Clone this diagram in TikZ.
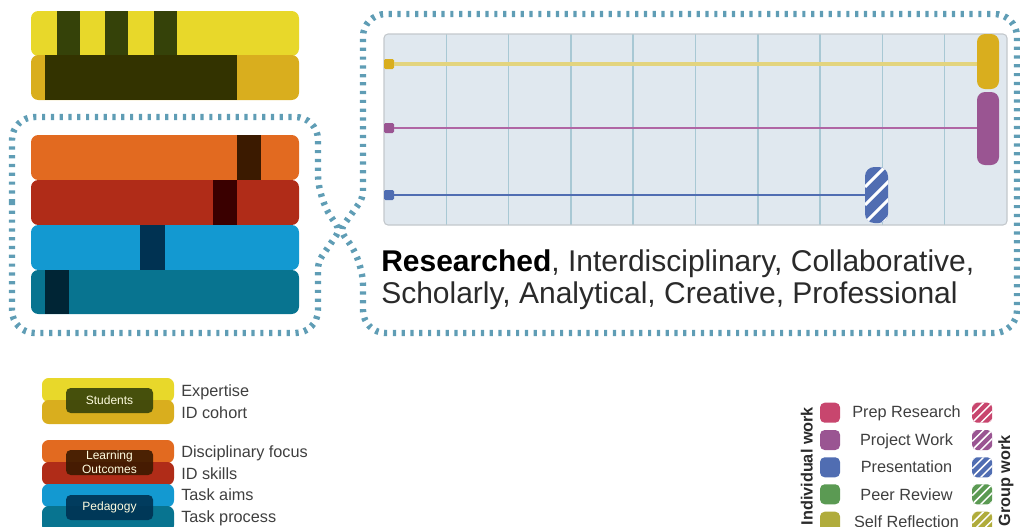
\documentclass[tikz,border=0pt]{standalone}
\usepackage{fontspec}
\setmainfont{Liberation Sans}
\setsansfont{Liberation Sans}
\definecolor{ylw}{HTML}{E8D82A}
\definecolor{gold}{HTML}{D9AE1E}
\definecolor{stripeY}{HTML}{354209}
\definecolor{darkY}{HTML}{333300}
\definecolor{orng}{HTML}{E26A20}
\definecolor{darkO}{HTML}{3B1A00}
\definecolor{redc}{HTML}{B02C18}
\definecolor{darkR}{HTML}{3A0000}
\definecolor{bluec}{HTML}{1399D1}
\definecolor{darkB}{HTML}{003252}
\definecolor{tealc}{HTML}{087490}
\definecolor{darkT}{HTML}{002535}
\definecolor{dotc}{HTML}{5F9DB5}
\definecolor{panelbg}{HTML}{E0E8EF}
\definecolor{panelbd}{HTML}{C3C8CC}
\definecolor{gridc}{HTML}{A8C8D4}
\definecolor{pinkc}{HTML}{C8466E}
\definecolor{purp}{HTML}{9A5592}
\definecolor{blu2}{HTML}{506DB2}
\definecolor{grn}{HTML}{5B9A53}
\definecolor{olv}{HTML}{B0AC3C}
\definecolor{yline}{HTML}{E3D47E}
\definecolor{pline}{HTML}{B066A4}
\definecolor{txt}{HTML}{2A2A2A}
\begin{document}
\begin{tikzpicture}[x=0.75pt,y=-0.75pt,
  dotbox/.style={draw=dotc, line width=4.8pt, dash pattern=on 2.4pt off 4.2pt},
  bar/.style={rounded corners=5.5pt},
  lbar/.style={rounded corners=5pt},
  vbar/.style={rounded corners=6pt, inner sep=0pt, minimum width=16.5pt},
  mk/.style={inner sep=0pt, minimum size=7.5pt, rounded corners=1pt},
  lsq/.style={inner sep=0pt, minimum size=15pt, rounded corners=3.5pt},
  hatch/.style={path picture={\foreach \k in {-3,...,3}
      \draw[white, line width=1.1pt] ([yshift=\k*6.5pt]path picture bounding box.south west) -- ++(20pt,20pt);}},
  bighatch/.style={path picture={\foreach \k in {-2,...,3}
      \draw[white, line width=2.2pt] ([yshift=\k*13.5pt]path picture bounding box.south west) -- ++(30pt,30pt);}},
  lbox/.style={rounded corners=3.5pt, inner sep=0pt, minimum width=65.25pt, minimum height=18.75pt,
      fill opacity=0.9, text opacity=1, text=white!88!yellow, font=\fontsize{9}{10}\selectfont, align=center},
  leg/.style={inner sep=0pt, anchor=base west, text=txt!90, font=\fontsize{12.2}{14}\selectfont},
  rleg/.style={inner sep=0pt, anchor=base, text=txt!90, font=\fontsize{12.2}{14}\selectfont},
  vlab/.style={inner sep=0pt, rotate=90, anchor=base east, text=txt, font=\fontsize{12.2}{14}\selectfont\bfseries}
]
\useasboundingbox (0,0) rectangle (1020,526);
\clip (0,0) rectangle (1020,526);

% ---- top-left stack (students)
\fill[ylw, bar] (31,11) rectangle (299,56);
\fill[stripeY] (57,11) rectangle (80,56);
\fill[stripeY] (105,11) rectangle (128,56);
\fill[stripeY] (154,11) rectangle (177,56);
\fill[gold, bar] (31,55) rectangle (299,100);
\fill[darkY] (45,55) rectangle (237,100);

% ---- left stack
\fill[orng, bar] (31,135) rectangle (299,180);
\fill[darkO] (237,135) rectangle (261,180);
\fill[redc, bar] (31,180) rectangle (299,225);
\fill[darkR] (213,180) rectangle (237,225);
\fill[bluec, bar] (31,225) rectangle (299,270);
\fill[darkB] (140,225) rectangle (165,270);
\fill[tealc, bar] (31,270) rectangle (299,314);
\fill[darkT] (45,270) rectangle (69,314);

% ---- dotted boxes
\draw[dotbox] [rounded corners=17pt] (12,225) -- (12,117) -- (318,117) -- (318,198)
  [rounded corners=5pt] -- (340,230) -- (318,262) [rounded corners=17pt] -- (318,333) -- (12,333) -- cycle;
\draw[dotbox] [rounded corners=17pt] (363,100) -- (363,14) -- (1017,14) -- (1017,333) -- (363,333) -- (363,262)
  [rounded corners=5pt] -- (340,230) -- (363,198) [rounded corners=17pt] -- cycle;

% ---- panel
\fill[panelbg, rounded corners=3pt] (384,34) rectangle (1007,225);
\foreach \i in {1,...,9} \draw[gridc, line width=1.1pt] (384+\i*62.3,34) -- (384+\i*62.3,225);
\draw[panelbd, line width=0.8pt, rounded corners=3pt] (384,34) rectangle (1007,225);

\node[vbar, fill=gold, minimum height=41.25pt] (yb) at (988,61.5) {};
\node[vbar, fill=purp, minimum height=54.75pt] (pb) at (988,128.5) {};
\node[vbar, fill=blu2, rounded corners=7pt, minimum width=17.25pt, minimum height=42pt, bighatch] (bb) at (876.5,195) {};
\node[mk, fill=gold] (ym) at (389,64) {};
\node[mk, fill=purp] (pm) at (389,128) {};
\node[mk, fill=blu2] (bm) at (389,195) {};
\draw[yline, line width=2.6pt] (ym.east) -- (ym -| yb.west);
\draw[pline, line width=1.6pt] (pm.east) -- (pm -| pb.west);
\draw[blu2, line width=1.1pt] (bm.east) -- (bm -| bb.west);

% ---- description text
\node[inner sep=0pt, anchor=base west, text=txt, font=\fontsize{22.5}{24.5}\selectfont] (d1) at (381,271)
  {\textbf{\color{black}Researched}, Interdisciplinary, Collaborative,};
\node[inner sep=0pt, anchor=base west, text=txt, font=\fontsize{22.5}{24.5}\selectfont] (d2) at (381,303.5)
  {Scholarly, Analytical, Creative, Professional};

% ---- left legend
\fill[ylw, lbar] (42,378) rectangle (174,402);
\fill[gold, lbar] (42,400) rectangle (174,424);
\node[lbox, fill=stripeY] (stu) at (109.5,400.5) {Students};
\fill[orng, lbar] (42,440) rectangle (174,463);
\fill[redc, lbar] (42,462) rectangle (174,485);
\node[lbox, fill=darkO, font=\fontsize{9}{10.5}\selectfont] (lo) at (109.5,462.5) {Learning\\Outcomes};
\fill[bluec, lbar] (42,484) rectangle (174,507);
\fill[tealc, lbar] (42,506) rectangle (174,532);
\node[lbox, fill=darkB] (ped) at (109.5,507.5) {Pedagogy};
\node[leg] (l1) at (181,396.7) {Expertise};
\node[leg] (l2) at (181,418.3) {ID cohort};
\node[leg] (l3) at (181,457.3) {Disciplinary focus};
\node[leg] (l4) at (181,479) {ID skills};
\node[leg] (l5) at (181,500.7) {Task aims};
\node[leg] (l6) at (181,522.7) {Task process};

% ---- right legend
\node[vlab] (iw) at (812.7,406.7) {Individual work};
\node[vlab] (gw) at (1010,435) {Group work};
\node[lsq, fill=pinkc] (i1) at (830,412.7) {};
\node[lsq, fill=purp] (i2) at (830,440) {};
\node[lsq, fill=blu2] (i3) at (830,467.3) {};
\node[lsq, fill=grn] (i4) at (830,494.3) {};
\node[lsq, fill=olv] (i5) at (830,521.7) {};
\node[lsq, fill=pinkc, hatch] (g1) at (982.2,412.7) {};
\node[lsq, fill=purp, hatch] (g2) at (982.2,440) {};
\node[lsq, fill=blu2, hatch] (g3) at (982.2,467.3) {};
\node[lsq, fill=grn, hatch] (g4) at (982.2,494.3) {};
\node[lsq, fill=olv, hatch] (g5) at (982.2,521.7) {};
\node[rleg] (r1) at (906.5,417.7) {Prep Research};
\node[rleg] (r2) at (906.5,445) {Project Work};
\node[rleg] (r3) at (906.5,472.7) {Presentation};
\node[rleg] (r4) at (906.5,500) {Peer Review};
\node[rleg] (r5) at (906.5,527.4) {Self Reflection};
\end{tikzpicture}
\end{document}
